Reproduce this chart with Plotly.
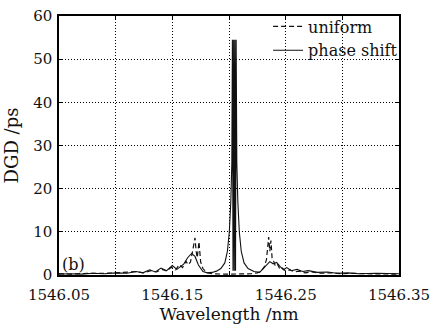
import plotly.graph_objects as go

# Wavelength (nm) and differential group delay (ps) for the uniform grating
wl_uniform = [
    1546.050, 1546.060, 1546.070, 1546.080, 1546.090, 1546.100, 1546.110,
    1546.118, 1546.125, 1546.131, 1546.136, 1546.141, 1546.145, 1546.149,
    1546.153, 1546.156, 1546.159, 1546.162, 1546.164, 1546.166, 1546.1675,
    1546.169, 1546.170, 1546.171, 1546.172, 1546.1735, 1546.175, 1546.177,
    1546.180, 1546.185, 1546.190, 1546.195, 1546.200, 1546.205, 1546.210,
    1546.215, 1546.220, 1546.225, 1546.228, 1546.231, 1546.233, 1546.234,
    1546.235, 1546.236, 1546.237, 1546.238, 1546.239, 1546.241, 1546.243,
    1546.245, 1546.247, 1546.250, 1546.254, 1546.258, 1546.262, 1546.267,
    1546.273, 1546.280, 1546.290, 1546.300, 1546.310, 1546.320, 1546.330,
    1546.340, 1546.350,
]
dgd_uniform = [
    0.3, 0.2, 0.35, 0.3, 0.4, 0.5, 0.6,
    0.8, 0.5, 1.0, 0.7, 1.3, 0.9, 1.8,
    1.2, 2.4, 1.7, 3.2, 2.4, 3.0, 5.0,
    7.0, 8.6, 5.5, 4.0, 7.7, 3.0, 1.5,
    0.6, 0.3, 0.2, 0.2, 0.2, 0.2, 0.2,
    0.2, 0.3, 0.5, 0.8, 1.8, 3.5, 6.0,
    8.8, 5.5, 8.0, 4.0, 3.5, 2.0, 2.4,
    1.3, 1.6, 0.9, 1.2, 0.7, 0.9, 0.5,
    0.7, 0.4, 0.5, 0.3, 0.4, 0.3, 0.3,
    0.2, 0.2,
]

# Wavelength (nm) and differential group delay (ps) for the phase-shifted grating
wl_phase = [
    1546.050, 1546.060, 1546.070, 1546.080, 1546.090, 1546.100, 1546.110,
    1546.118, 1546.124, 1546.130, 1546.135, 1546.140, 1546.145, 1546.150,
    1546.154, 1546.157, 1546.160, 1546.1635, 1546.167, 1546.170, 1546.173,
    1546.177, 1546.181, 1546.185, 1546.189, 1546.1928, 1546.1963, 1546.1986,
    1546.2003, 1546.2016, 1546.2025, 1546.2030, 1546.20355, 1546.2041,
    1546.20465, 1546.2052, 1546.20575, 1546.2063, 1546.2069, 1546.2078,
    1546.2091, 1546.2108, 1546.2133, 1546.2168, 1546.2220, 1546.2270,
    1546.2300, 1546.2330, 1546.2360, 1546.2390, 1546.2420, 1546.2450,
    1546.2480, 1546.2510, 1546.2550, 1546.2600, 1546.2650, 1546.2700,
    1546.2780, 1546.2870, 1546.2950, 1546.3050, 1546.3150, 1546.3300,
    1546.3400, 1546.3500,
]
dgd_phase = [
    0.2, 0.3, 0.2, 0.4, 0.3, 0.5, 0.4,
    0.8, 0.5, 1.2, 0.7, 1.6, 1.0, 2.2,
    1.3, 2.0, 2.5, 4.0, 5.0, 4.3, 2.3,
    0.8, 0.5, 0.6, 0.9, 1.5, 2.8, 5.5,
    10.0, 17.0, 26.0, 54.5, 1.0, 54.5,
    1.0, 54.5, 1.0, 54.5, 26.0, 17.0,
    10.0, 5.5, 2.8, 1.5, 0.8, 0.6,
    1.4, 2.2, 3.1, 2.6, 2.9, 2.0,
    1.2, 1.7, 1.0, 1.3, 0.8, 1.0,
    0.6, 0.7, 0.4, 0.5, 0.3, 0.4,
    0.3, 0.3,
]

assert len(wl_uniform) == len(dgd_uniform)
assert len(wl_phase) == len(dgd_phase)

x_ticks = [1546.05, 1546.10, 1546.15, 1546.20, 1546.25, 1546.30, 1546.35]
x_tick_text = ["1546.05", "", "1546.15", "", "1546.25", "", "1546.35"]
y_ticks = [0, 10, 20, 30, 40, 50, 60]

FONT = "DejaVu Serif"
INK = "#111111"

fig = go.Figure()
fig.add_trace(go.Scatter(
    x=wl_uniform, y=dgd_uniform, mode="lines", name="uniform",
    line=dict(color=INK, width=1.2, dash="5px,3px"),
))
fig.add_trace(go.Scatter(
    x=wl_phase, y=dgd_phase, mode="lines", name="phase shift",
    line=dict(color=INK, width=1.1),
))

fig.add_annotation(
    x=1546.051, y=2.4, xref="x", yref="y", text="(b)", showarrow=False,
    xanchor="left", yanchor="middle", font=dict(family=FONT, size=16, color=INK),
)

axis_common = dict(
    showline=True, linecolor="#000", linewidth=1.5, mirror="ticks",
    ticks="inside", ticklen=4, tickcolor="#000", automargin=False,
    showgrid=True, gridcolor="#000", gridwidth=1.2, griddash="1px,2px",
    zeroline=False, tickfont=dict(family=FONT, size=15, color=INK),
)

fig.update_layout(
    width=430, height=328,
    margin=dict(l=59, r=31, t=16, b=53, autoexpand=False),
    paper_bgcolor="white", plot_bgcolor="white",
    showlegend=True,
    legend=dict(
        x=0.615, y=1.025, xanchor="left", yanchor="top",
        bgcolor="rgba(255,255,255,0)", borderwidth=0,
        font=dict(family=FONT, size=16, color=INK),
        tracegroupgap=0,
    ),
    xaxis=dict(
        range=[1546.05, 1546.35], tickvals=x_ticks, ticktext=x_tick_text,
        ticklabelstandoff=5, ticklabeloverflow="allow",
        title=dict(text="Wavelength /nm", font=dict(family=FONT, size=17, color=INK), standoff=4),
        **axis_common,
    ),
    yaxis=dict(
        range=[0, 60], tickvals=y_ticks, ticklabelstandoff=2,
        title=dict(text="DGD /ps", font=dict(family=FONT, size=18, color=INK), standoff=10),
        **axis_common,
    ),
)

fig.write_html("out.html")
